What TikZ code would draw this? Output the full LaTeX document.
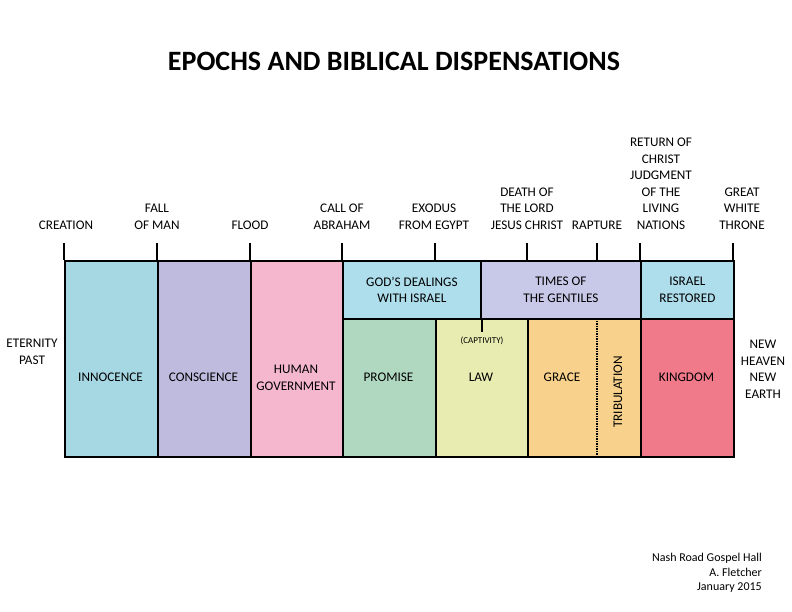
\documentclass[tikz,border=0pt]{standalone}
\usepackage{fontspec}
\setmainfont{Carlito}
\usepackage{xcolor}
\usetikzlibrary{positioning}

\definecolor{cinno}{RGB}{166,216,228}
\definecolor{ccons}{RGB}{190,187,223}
\definecolor{chum}{RGB}{245,183,206}
\definecolor{cisr}{RGB}{174,221,236}
\definecolor{cgen}{RGB}{200,200,232}
\definecolor{cprom}{RGB}{176,216,192}
\definecolor{claw}{RGB}{232,236,176}
\definecolor{cgrace}{RGB}{248,210,140}
\definecolor{cking}{RGB}{240,122,138}

\begin{document}
\begin{tikzpicture}[
  x=1pt, y=-1pt,
  cell/.style = {
    rectangle, draw=black, line width=1.8pt,
    anchor=north west, inner sep=0pt, align=center,
    font=\fontsize{13.2}{16.5}\selectfont
  },
  lbl/.style  = {
    anchor=south, inner sep=0pt, text depth=0pt, align=center,
    font=\fontsize{13.2}{16.5}\selectfont
  },
  tick/.style = {line width=1.8pt, black}
]
\useasboundingbox (0,0) rectangle (792,612);

%% ---- title ----
\node[anchor=base, inner sep=0pt, font=\fontsize{28}{32}\selectfont\bfseries]
  (title) at (394,71) {EPOCHS AND BIBLICAL DISPENSATIONS};

%% ---- full-height epochs ----
\node[cell, fill=cinno, minimum width=93pt, minimum height=196pt] (inno) at (64,260) {};
\node[cell, fill=ccons, minimum width=93pt, minimum height=196pt] (cons) at (157,260) {};
\node[cell, fill=chum,  minimum width=92pt, minimum height=196pt] (humg) at (250,260) {};

%% ---- top row ----
\node[cell, fill=cisr, minimum width=138pt, minimum height=58pt] (isr) at (342,260)
  {GOD’S DEALINGS\\WITH ISRAEL};
\node[cell, fill=cgen, minimum width=160pt, minimum height=58pt] (gent) at (480,260)
  {TIMES OF\\THE GENTILES};
\node[cell, fill=cisr, minimum width=93pt, minimum height=58pt] (rest) at (640,260)
  {ISRAEL\\RESTORED};

%% ---- bottom row ----
\node[cell, fill=cprom,  minimum width=93pt,  minimum height=138pt] (prom)  at (342,318) {};
\node[cell, fill=claw,   minimum width=92pt,  minimum height=138pt] (law)   at (435,318) {};
\node[cell, fill=cgrace, minimum width=113pt, minimum height=138pt] (grace) at (527,318) {};
\node[cell, fill=cking,  minimum width=93pt,  minimum height=138pt] (king)  at (640,318) {};

%% ---- epoch names ----
\node[lbl] (l-inno)  at (110.5,381.3) {INNOCENCE};
\node[lbl] (l-cons)  at (203.5,381.3) {CONSCIENCE};
\node[lbl] (l-humg)  at (296,390.3) {HUMAN\\GOVERNMENT};
\node[lbl] (l-prom)  at (388.5,381.3) {PROMISE};
\node[lbl] (l-law)   at (481,381.3) {LAW};
\node[lbl] (l-grace) at (562,381.3) {GRACE};
\node[lbl] (l-king)  at (686.5,381.3) {KINGDOM};
\node[lbl, anchor=base, rotate=90] (l-trib) at (622,392) {TRIBULATION};

%% ---- events above the line ----
\foreach \x/\lx/\nm/\txt in {
    64/66/creation/CREATION,
    157/157/fall/FALL\\OF MAN,
    250/250/flood/FLOOD,
    342/342/call/CALL OF\\ABRAHAM,
    435/434/exodus/EXODUS\\FROM EGYPT,
    527/527/death/DEATH OF\\THE LORD\\JESUS CHRIST,
    597/597/rapture/RAPTURE,
    640/661/return/RETURN OF\\CHRIST\\JUDGMENT\\OF THE\\LIVING\\NATIONS,
    733/742/throne/GREAT\\WHITE\\THRONE} {
  \coordinate (t-\nm) at (\x,243);
  \draw[tick] (t-\nm) -- (t-\nm |- inno.north);
  \node[lbl] (e-\nm) at (\lx,229.5) {\txt};
}

%% ---- rapture divider and captivity ----
\draw[line width=1.5pt, densely dotted] (t-rapture |- grace.north) -- (t-rapture |- grace.south);
\coordinate (capt) at ([yshift=-12pt]isr.south east);
\draw[line width=1.4pt] (isr.south east) -- (capt);
\node[lbl, font=\fontsize{9}{10}\selectfont] (l-capt) at (482,344) {(CAPTIVITY)};

%% ---- eternity ----
\node[lbl] (past) at (32,364.3) {ETERNITY\\PAST};
\node[lbl] (future) at (763,398.3) {NEW\\HEAVEN\\NEW\\EARTH};

%% ---- credit ----
\node[anchor=south east, inner sep=0pt, text depth=0pt, align=right,
      font=\fontsize{12}{14.5}\selectfont] (credit) at (762,591)
  {Nash Road Gospel Hall\\A. Fletcher\\January 2015};

\end{tikzpicture}
\end{document}
